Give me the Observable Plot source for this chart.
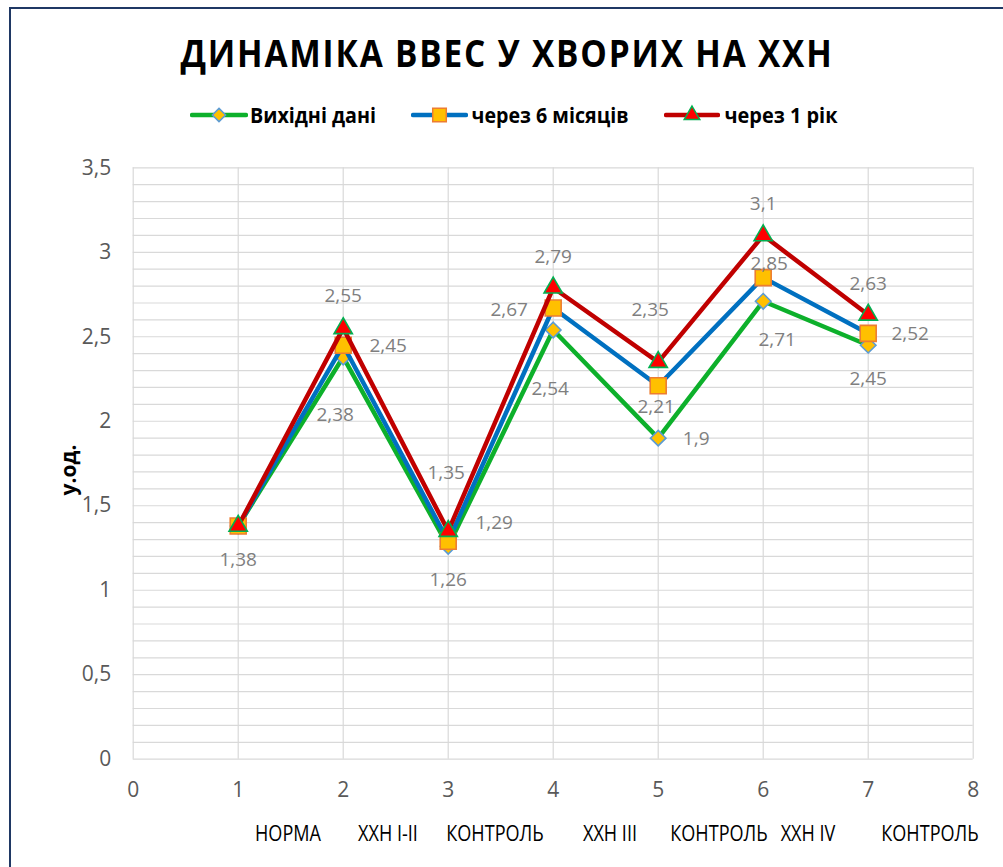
<!DOCTYPE html>
<html>
<head>
<meta charset="utf-8">
<script src="https://cdn.jsdelivr.net/npm/d3@7"></script>
<script src="https://cdn.jsdelivr.net/npm/@observablehq/plot@0.6"></script>
<style>
  body { margin: 0; background: #fff; }
  #wrap { position: relative; width: 1003px; height: 867px; overflow: hidden; background: #fff; font-family: "Open Sans", "Noto Sans", sans-serif; }
  #frame { position: absolute; left: 9px; top: 7px; width: 1200px; height: 1000px; border-left: 2.5px solid #1F3864; border-top: 2.5px solid #1F3864; box-sizing: border-box; }
  .abs { position: absolute; white-space: pre; line-height: 1; }
  #chart { position: absolute; left: 0; top: 150px; }
</style>
</head>
<body>
<div id="wrap">
  <div id="frame"></div>
  <div id="chart"></div>
</div>
<script>
// ---------- data ----------
const titleText = "ДИНАМІКА ВВЕС У ХВОРИХ НА ХХН";
const yAxisTitle = "у.од.";
const xValues = [1, 2, 3, 4, 5, 6, 7];
const seriesNames = ["Вихідні дані", "через 6 місяців", "через 1 рік"];
const initialValues = [1.38, 2.38, 1.26, 2.54, 1.9, 2.71, 2.45];
const sixMonthValues = [1.38, 2.45, 1.29, 2.67, 2.21, 2.85, 2.52];
const oneYearValues = [1.38, 2.55, 1.35, 2.79, 2.35, 3.1, 2.63];
const xCategories = ["НОРМА", "ХХН I-II", "КОНТРОЛЬ", "ХХН III", "КОНТРОЛЬ", "ХХН IV", "КОНТРОЛЬ"];
const xTicks = [0, 1, 2, 3, 4, 5, 6, 7, 8];
const yTicks = [0, 0.5, 1, 1.5, 2, 2.5, 3, 3.5];

// ---------- styling / layout ----------
const seriesValues = [initialValues, sixMonthValues, oneYearValues];
const seriesStyle = [
  { line: "#0DB02B", symbol: "diamond2", r: 7, fill: "#FFC000", stroke: "#5B9BD5" },
  { line: "#0070C0", symbol: "square", r: 9, fill: "#FFC000", stroke: "#ED7D31" },
  { line: "#C00000", symbol: "triangle", r: 6.8, fill: "#FF0000", stroke: "#00B050" }
];
// data-label offsets in pixels relative to each marker (null = no label)
const labelOffsets = [
  [[0, 34], [-8, 58], [0, 34], [-3, 59], [38, 1], [14, 39], [0, 34]],
  [null, [45, 1], [46, -18], [-44, 2], [-2, 21], [6, -14], [42, 1]],
  [null, [0, -32], [-2, -58], [0, -31], [-8, -52], [0, -31], [0, -31]]
];
const fmt = v => String(v).replace(".", ",");

const rows = [];
seriesNames.forEach((name, s) => seriesValues[s].forEach((v, i) => rows.push({ s, series: name, i, x: xValues[i], y: v })));

const marks = [
  Plot.gridY(d3.range(0, 36).map(k => +(k / 10).toFixed(1)), { stroke: "#D9D9D9", strokeOpacity: 1, strokeWidth: 1.2 }),
  Plot.gridX(xTicks, { stroke: "#D9D9D9", strokeOpacity: 1, strokeWidth: 1.2 }),
  Plot.axisX(xTicks, { tickSize: 0, tickPadding: 23, fill: "#595959", fontSize: 21, tickFormat: d => String(d), label: null }),
  Plot.axisY(yTicks, { tickSize: 0, tickPadding: 22, fill: "#595959", fontSize: 21, tickFormat: fmt, label: null })
];
seriesNames.forEach((name, s) => {
  const data = rows.filter(d => d.s === s);
  const st = seriesStyle[s];
  marks.push(Plot.line(data, { x: "x", y: "y", stroke: st.line, strokeWidth: 4.5, strokeLinejoin: "round", strokeLinecap: "round" }));
  marks.push(Plot.dot(data, { x: "x", y: "y", symbol: st.symbol, r: st.r, fill: st.fill, stroke: st.stroke, strokeWidth: 1.6 }));
});
rows.forEach(d => {
  const off = labelOffsets[d.s][d.i];
  if (!off) return;
  marks.push(Plot.text([d], { x: "x", y: "y", text: r => fmt(r.y), dx: off[0], dy: off[1], fill: "#7F7F7F", fontSize: 19, textAnchor: "middle", lineAnchor: "middle" }));
});

const chart = Plot.plot({
  width: 1003,
  height: 717,
  marginTop: 17.3,
  marginBottom: 108.3,
  marginLeft: 132.7,
  marginRight: 30.3,
  x: { type: "linear", domain: [0, 8] },
  y: { type: "linear", domain: [0, 3.5] },
  style: { fontFamily: "'Open Sans', 'Noto Sans', sans-serif", fontSize: "19px", background: "transparent", overflow: "visible" },
  marks
});
document.getElementById("chart").appendChild(chart);

// ---------- HTML text (title, legend, axis titles) ----------
const wrap = document.getElementById("wrap");
function addText(txt, opts) {
  const el = document.createElement("div");
  el.className = "abs";
  el.textContent = txt;
  Object.assign(el.style, opts.style || {});
  wrap.appendChild(el);
  const r = el.getBoundingClientRect();
  const k = opts.width ? opts.width / r.width : (opts.scale || 1);
  el.style.left = opts.cx + "px";
  el.style.top = opts.cy + "px";
  el.style.transform = `translate(-50%, -50%) ${opts.rotate ? "rotate(" + opts.rotate + "deg) " : ""}scaleX(${k})`;
  return el;
}

// title
addText(titleText, { cx: 506.5, cy: 52, width: 653, style: { fontSize: "37px", fontWeight: "700", letterSpacing: "2px", color: "#000" } });

// legend
const legendPos = [
  { line: [190, 248], text: [250, 376] },
  { line: [411, 468], text: [471, 628] },
  { line: [664, 720], text: [724, 837] }
];
const legendY = 115;
seriesNames.forEach((name, s) => {
  const st = seriesStyle[s];
  const p = legendPos[s];
  const w = p.line[1] - p.line[0];
  const svg = d3.create("svg").attr("width", w).attr("height", 24)
    .style("position", "absolute").style("left", p.line[0] + "px").style("top", (legendY - 12) + "px");
  svg.append("line").attr("x1", 2).attr("x2", w - 2).attr("y1", 12).attr("y2", 12)
    .attr("stroke", st.line).attr("stroke-width", 4.5).attr("stroke-linecap", "round");
  const symMap = { diamond2: d3.symbolDiamond2, square: d3.symbolSquare, triangle: d3.symbolTriangle };
  svg.append("path").attr("transform", `translate(${w / 2},12)`)
    .attr("d", d3.symbol(symMap[st.symbol], Math.PI * (st.r * 0.85) ** 2)())
    .attr("fill", st.fill).attr("stroke", st.stroke).attr("stroke-width", 1.5);
  wrap.appendChild(svg.node());
  addText(name, { cx: (p.text[0] + p.text[1]) / 2, cy: legendY, width: p.text[1] - p.text[0], style: { fontSize: "21px", fontWeight: "700", color: "#000" } });
});

// y axis title
addText(yAxisTitle, { cx: 68, cy: 470, rotate: -90, style: { fontSize: "21px", fontWeight: "700", color: "#000" } });

// category labels row (x axis title)
const catCenters = [288, 388, 495, 610, 719, 808, 930];
xCategories.forEach((c, i) => {
  addText(c, { cx: catCenters[i], cy: 833, scale: 0.86, style: { fontSize: "21px", color: "#000" } });
});
</script>
</body>
</html>
